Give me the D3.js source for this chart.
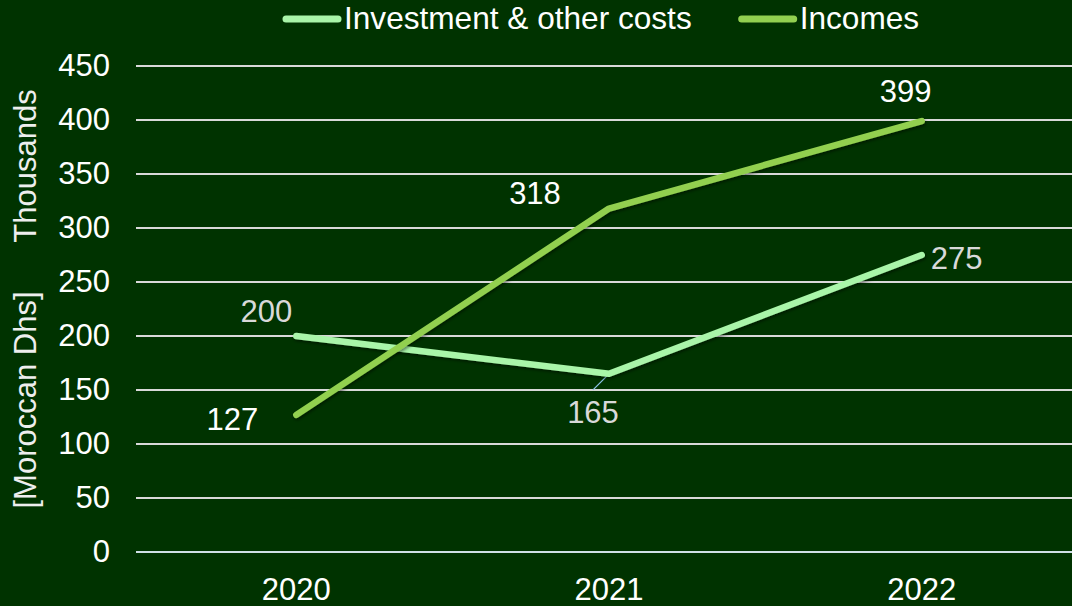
<!DOCTYPE html>
<html>
<head>
<meta charset="utf-8">
<script src="https://cdn.jsdelivr.net/npm/d3@7"></script>
<style>
  html, body { margin: 0; padding: 0; background: #003300; }
  svg { display: block; font-family: "Liberation Sans", Arial, sans-serif; }
</style>
</head>
<body>
<div id="chart"></div>
<script>
// chart data
const years = ["2020", "2021", "2022"];
const investment = [200, 165, 275];
const incomes = [127, 318, 399];
const yTicks = [0, 50, 100, 150, 200, 250, 300, 350, 400, 450];
const seriesNames = ["Investment & other costs", "Incomes"];

const W = 1072, H = 606;
const margin = {top: 66, right: -6, bottom: 54, left: 140};

const svg = d3.select("#chart").append("svg")
    .attr("width", W)
    .attr("height", H);

svg.append("rect").attr("width", W).attr("height", H).attr("fill", "#003300");

// soft shadow under the lines
const defs = svg.append("defs");
const shadow = defs.append("filter").attr("id", "shadow")
    .attr("x", "-10%").attr("y", "-10%").attr("width", "120%").attr("height", "130%");
shadow.append("feDropShadow")
    .attr("dx", 1).attr("dy", 2).attr("stdDeviation", 1.5)
    .attr("flood-color", "#000").attr("flood-opacity", 0.45);

// scales
const x = d3.scaleBand()
    .domain(years)
    .range([margin.left, W - margin.right]);

const y = d3.scaleLinear()
    .domain([0, 450])
    .range([H - margin.bottom, margin.top]);

const cx = d => x(d) + x.bandwidth() / 2;

// gridlines
svg.append("g")
    .selectAll("line")
    .data(yTicks)
    .enter().append("line")
    .attr("x1", 136)
    .attr("x2", W)
    .attr("y1", d => y(d))
    .attr("y2", d => y(d))
    .attr("stroke", d => d === 0 ? "#cfe0e6" : "#d9d9d9")
    .attr("stroke-width", 2);

// y axis labels
const yAxis = svg.append("g")
    .attr("transform", `translate(${margin.left - 30},0)`)
    .call(d3.axisLeft(y).tickValues(yTicks).tickSize(0).tickPadding(0));
yAxis.select(".domain").remove();
yAxis.selectAll("text")
    .attr("fill", "#ffffff")
    .style("font-size", "31px")
    .attr("font-family", "Liberation Sans, Arial, sans-serif");

// x axis labels
const xAxis = svg.append("g")
    .attr("transform", `translate(0,${H - margin.bottom})`)
    .call(d3.axisBottom(x).tickSize(0).tickPadding(26));
xAxis.select(".domain").remove();
xAxis.selectAll("text")
    .attr("fill", "#ffffff")
    .style("font-size", "31px")
    .attr("font-family", "Liberation Sans, Arial, sans-serif");

// axis titles
svg.append("text")
    .attr("transform", "translate(36,166) rotate(-90)")
    .attr("text-anchor", "middle")
    .attr("fill", "#eeeeee")
    .style("font-size", "31px")
    .text("Thousands");

svg.append("text")
    .attr("transform", "translate(36,400) rotate(-90)")
    .attr("text-anchor", "middle")
    .attr("fill", "#eeeeee")
    .style("font-size", "31px")
    .text("[Moroccan Dhs]");

// series
const series = [
    {name: seriesNames[0], values: investment, color: "#a9f5a9", labelColor: "#d9d9d9",
     offsets: [[-30, -25], [-16, 38], [35, 3]]},
    {name: seriesNames[1], values: incomes, color: "#92d050", labelColor: "#ffffff",
     offsets: [[-64, 4], [-74, -15], [-16, -30]]}
];

const line = d3.line()
    .x((d, i) => cx(years[i]))
    .y(d => y(d));

// leader line for 2021 investment label
const leadIdx = 1;
svg.append("line")
    .attr("x1", cx(years[leadIdx]) - 16)
    .attr("y1", y(investment[leadIdx]) + 16)
    .attr("x2", cx(years[leadIdx]))
    .attr("y2", y(investment[leadIdx]))
    .attr("stroke", "#8ec3e8")
    .attr("stroke-width", 1.2);

svg.append("g")
    .selectAll("path")
    .data(series)
    .enter().append("path")
    .attr("d", d => line(d.values))
    .attr("fill", "none")
    .attr("stroke", d => d.color)
    .attr("stroke-width", 6.5)
    .attr("stroke-linecap", "round")
    .attr("stroke-linejoin", "round")
    .attr("filter", "url(#shadow)");

// data labels
series.forEach(s => {
    svg.append("g")
        .selectAll("text")
        .data(s.values)
        .enter().append("text")
        .attr("x", (d, i) => cx(years[i]) + s.offsets[i][0])
        .attr("y", (d, i) => y(d) + s.offsets[i][1])
        .attr("dy", "0.35em")
        .attr("text-anchor", "middle")
        .attr("fill", s.labelColor)
        .style("font-size", "31px")
        .text(d => d);
});

// legend
const legend = svg.append("g");
let lx = 283;
series.forEach(s => {
    legend.append("line")
        .attr("x1", lx + 3).attr("x2", lx + 55)
        .attr("y1", 19).attr("y2", 19)
        .attr("stroke", s.color)
        .attr("stroke-width", 7)
        .attr("stroke-linecap", "round");
    const t = legend.append("text")
        .attr("x", lx + 61)
        .attr("y", 29)
        .attr("fill", "#ffffff")
        .style("font-size", "31.6px")
        .text(s.name);
    lx += 61 + t.node().getComputedTextLength() + 47;
});
</script>
</body>
</html>
